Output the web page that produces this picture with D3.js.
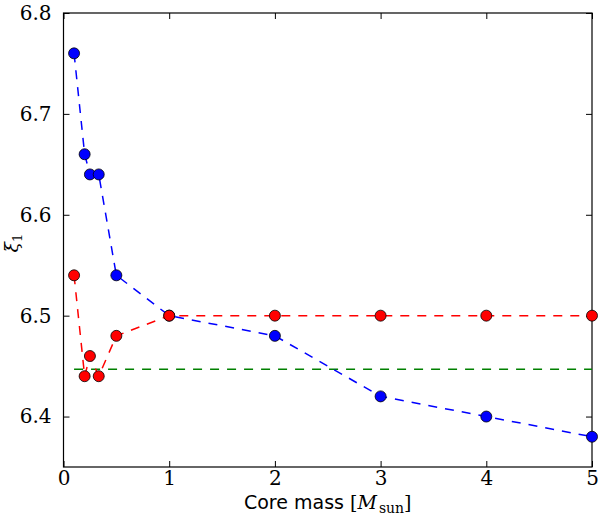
<!DOCTYPE html>
<html lang="en">
<head>
<meta charset="utf-8">
<title>xi1 vs core mass</title>
<script src="https://d3js.org/d3.v7.min.js"></script>
<style>
  body { margin: 0; background: #fff; }
  .tick text { font-family: "DejaVu Serif", serif; font-size: 20px; }
</style>
</head>
<body>
<script>
// core masses (Msun)
var masses = [0.1, 0.2, 0.25, 1/3, 0.5, 1, 2, 3, 4, 5];
// blue series
var blueVals = [6.76, 6.66, 6.64, 6.64, 6.54, 6.50, 6.48, 6.42, 6.40, 6.38];
// red series
var redVals = [6.54, 6.44, 6.46, 6.44, 6.48, 6.50, 6.50, 6.50, 6.50, 6.50];
// green reference level
var greenLevel = 6.447;
var xTicks = [0, 1, 2, 3, 4, 5];
var yTicks = [6.4, 6.5, 6.6, 6.7, 6.8];

var w = 600, h = 520;
var m = {left: 63.5, right: 8, top: 13, bottom: 53};

var svg = d3.select("body").append("svg")
  .attr("width", w).attr("height", h);

var x = d3.scaleLinear().domain([0, 5]).range([m.left, w - m.right]);
var y = d3.scaleLinear().domain([6.35, 6.8]).range([h - m.bottom, m.top]);

// axes, ticks pointing inward
svg.append("g").attr("transform", "translate(0," + (h - m.bottom) + ")")
  .call(d3.axisBottom(x).tickValues(xTicks).tickSizeInner(-6).tickSizeOuter(0).tickPadding(4).tickFormat(d3.format("d")));
svg.append("g").attr("transform", "translate(0," + m.top + ")")
  .call(d3.axisTop(x).tickValues(xTicks).tickSizeInner(-6).tickSizeOuter(0).tickFormat(""));
svg.append("g").attr("transform", "translate(" + m.left + ",0)")
  .call(d3.axisLeft(y).tickValues(yTicks).tickSizeInner(-6).tickSizeOuter(0).tickPadding(12).tickFormat(d3.format(".1f")));
svg.append("g").attr("transform", "translate(" + (w - m.right) + ",0)")
  .call(d3.axisRight(y).tickValues(yTicks).tickSizeInner(-6).tickSizeOuter(0).tickFormat(""));
svg.selectAll(".domain").remove();
svg.selectAll(".tick line").attr("stroke", "#000").attr("stroke-width", 1);

// frame
svg.append("rect")
  .attr("x", m.left).attr("y", m.top)
  .attr("width", w - m.left - m.right).attr("height", h - m.top - m.bottom)
  .attr("fill", "none").attr("stroke", "#000").attr("stroke-width", 1.2);

var line = d3.line().x(function(d) { return x(d[0]); }).y(function(d) { return y(d[1]); });

// green horizontal line
svg.append("path")
  .attr("d", line([[masses[0], greenLevel], [masses[masses.length - 1], greenLevel]]))
  .attr("fill", "none").attr("stroke", "#008000").attr("stroke-width", 1.5)
  .attr("stroke-dasharray", "9,8");

function series(vals, col) {
  var pts = masses.map(function(mm, i) { return [mm, vals[i]]; });
  svg.append("path")
    .attr("d", line(pts))
    .attr("fill", "none").attr("stroke", col).attr("stroke-width", 1.5)
    .attr("stroke-dasharray", "9,8");
  svg.append("g").selectAll("circle")
    .data(pts).enter().append("circle")
    .attr("cx", function(d) { return x(d[0]); })
    .attr("cy", function(d) { return y(d[1]); })
    .attr("r", 5.5)
    .attr("fill", col).attr("stroke", "#000").attr("stroke-width", 0.8);
}
series(blueVals, "#0000ff");
series(redVals, "#ff0000");

// x label
var xl = svg.append("text")
  .attr("x", (m.left + w - m.right) / 2).attr("y", 509)
  .attr("text-anchor", "middle")
  .style("font-family", "DejaVu Sans, sans-serif").style("font-size", "19px");
xl.append("tspan").text("Core mass ");
xl.append("tspan").style("font-family", "DejaVu Serif, serif").text("[");
xl.append("tspan").style("font-family", "DejaVu Serif, serif").style("font-style", "italic").text("M");
xl.append("tspan").style("font-family", "DejaVu Serif, serif").style("font-size", "14px").attr("dx", 2).attr("dy", 4).text("sun");
xl.append("tspan").style("font-family", "DejaVu Serif, serif").attr("dy", -4).text("]");

// y label
var yl = svg.append("text")
  .attr("transform", "translate(18,243) rotate(-90)")
  .attr("text-anchor", "middle")
  .style("font-family", "DejaVu Serif, serif").style("font-size", "19px");
yl.append("tspan").style("font-style", "italic").text("ξ");
yl.append("tspan").style("font-size", "13px").attr("dy", 4).text("1");
</script>
</body>
</html>
